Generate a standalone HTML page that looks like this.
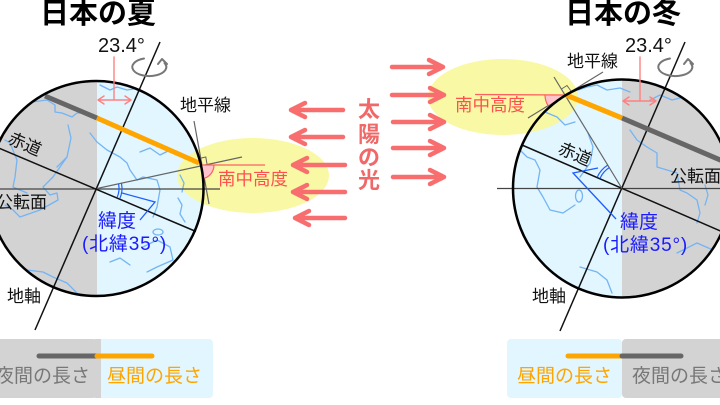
<!DOCTYPE html>
<html><head><meta charset="utf-8"><style>
html,body{margin:0;padding:0;background:#fff;width:720px;height:405px;overflow:hidden}
svg{display:block}
text{font-family:"Liberation Sans","Noto Sans CJK JP",sans-serif}
</style></head><body>
<svg width="720" height="405" viewBox="0 0 720 405" xmlns="http://www.w3.org/2000/svg">
<defs>
<clipPath id="cL"><circle cx="96" cy="188.5" r="107.5"/></clipPath>
<clipPath id="cR"><circle cx="622" cy="188.5" r="109"/></clipPath>
</defs>

<!-- LEFT GLOBE fills -->
<g clip-path="url(#cL)">
<rect x="-20" y="70" width="117" height="240" fill="#d3d3d3"/>
<rect x="97" y="70" width="120" height="240" fill="#e1f6fe"/>
</g>
<!-- RIGHT GLOBE fills -->
<g clip-path="url(#cR)">
<rect x="505" y="70" width="117" height="240" fill="#e1f6fe"/>
<rect x="622" y="70" width="120" height="240" fill="#d3d3d3"/>
</g>

<!-- yellow ellipses -->
<ellipse cx="253" cy="175.5" rx="76" ry="37.5" fill="#f8f79c" opacity="0.92"/>
<ellipse cx="503" cy="97" rx="75" ry="38" fill="#f8f79c" opacity="0.92"/>

<!-- coastlines left -->
<g clip-path="url(#cL)" fill="none" stroke="#74b4f4" stroke-width="1.3" stroke-linejoin="round" stroke-linecap="round">
<polyline points="32,102 47,100 55,105 55,112 62,113 72,117 77,113 83,113 90,117 95,119"/>
<polyline points="100,85 110,90 117,87 127,90 140,88 150,92"/>
<polyline points="68,125 71,138 67,157 57,167"/>
<polyline points="5,140 10,143 17,160 15,177 13,187 27,193"/>
<polyline points="67,157 53,177 43,187 50,195 57,193 58,200 40,210 20,217 13,210 5,205"/>
<polyline points="90,133 97,142 107,150 120,157 127,163 130,170 137,180 143,177 157,180 160,190 157,207 153,217"/>
<polyline points="140,152 150,148 160,155 170,150 180,156 187,157 195,160"/>
<polyline points="180,175 184,183 182,192"/>
<polyline points="178,198 182,205 180,214 185,222"/>
<ellipse cx="158" cy="232" rx="5" ry="3"/>
<polyline points="143,247 157,240 170,247 173,260 157,267 147,272"/>
<polyline points="27,270 43,272 53,277 67,283 77,293"/>
<polyline points="110,262 120,258 130,265"/>
</g>

<!-- coastlines right -->
<g clip-path="url(#cR)" fill="none" stroke="#74b4f4" stroke-width="1.3" stroke-linejoin="round" stroke-linecap="round">
<polyline points="578,90 587,87 597,85 607,90 620,88 630,92"/>
<polyline points="540,110 557,117 565,125 575,122"/>
<polyline points="520,150 527,157 535,160 540,170 537,187 543,197 550,210 563,213 575,205"/>
<polyline points="588,133 593,147 590,163 580,177"/>
<ellipse cx="579" cy="196" rx="3.5" ry="6"/>
<polyline points="580,267 597,272 607,280 612,293"/>
<polyline points="630,130 637,140 647,147 657,153 657,167 667,170 677,173 680,190 687,193 697,200 700,213 697,223"/>
<polyline points="697,87 710,93 720,107"/>
<polyline points="705,185 708,195 705,205"/>
<polyline points="677,253 697,243 713,250 722,262"/>
<polyline points="650,100 660,95 672,100 680,98"/>
</g>

<!-- LEFT GLOBE lines -->
<g fill="none">
<line x1="0" y1="189" x2="220" y2="189" stroke="#444" stroke-width="1.2"/>
<line x1="-5" y1="146.5" x2="196" y2="231.5" stroke="#111" stroke-width="1.5"/>
<line x1="160" y1="42" x2="35" y2="330" stroke="#111" stroke-width="1.5"/>
<line x1="97" y1="188.5" x2="242" y2="157" stroke="#666" stroke-width="1.2"/>
<line x1="194" y1="121" x2="209" y2="204" stroke="#666" stroke-width="1.2"/>
<path d="M199 158.5 L205.8 157 L207 164" stroke="#666" stroke-width="1"/>
<line x1="45" y1="96" x2="97" y2="118" stroke="#666" stroke-width="5"/>
<line x1="97" y1="118" x2="199" y2="163" stroke="#ffa500" stroke-width="5"/>
<path d="M200 165 L214 165 A14 14 0 0 1 202.5 178.8 Z" fill="#ffc4cc" stroke="none"/>
<path d="M214 165 A14 14 0 0 1 202.5 178.8" stroke="#ff6060" stroke-width="1.2"/>
<line x1="200" y1="165" x2="265" y2="165" stroke="#ff6060" stroke-width="1.3"/>
<path d="M118.6 184.1 A22 22 0 0 1 117.2 197.2 M121.5 183.5 A25 25 0 0 1 119.9 198.4" stroke="#1e5eff" stroke-width="1.2"/>
<polyline points="122,193 155,202 140,220" stroke="#1e5eff" stroke-width="1.3"/>
</g>
<circle cx="96" cy="188.5" r="107.5" fill="none" stroke="#000" stroke-width="2.5"/>

<!-- RIGHT GLOBE lines -->
<g fill="none">
<line x1="497" y1="188.5" x2="720" y2="188.5" stroke="#444" stroke-width="1.2"/>
<line x1="522" y1="145" x2="725" y2="233" stroke="#111" stroke-width="1.5"/>
<line x1="685" y1="42" x2="560" y2="331" stroke="#111" stroke-width="1.5"/>
<line x1="622" y1="188.5" x2="554" y2="77" stroke="#666" stroke-width="1.2"/>
<line x1="528" y1="118" x2="603" y2="72" stroke="#666" stroke-width="1.2"/>
<path d="M561.5 89 L567 85.5 L571 91" stroke="#666" stroke-width="1"/>
<line x1="622" y1="118" x2="725" y2="162" stroke="#666" stroke-width="5"/>
<line x1="566" y1="95" x2="622" y2="118" stroke="#ffa500" stroke-width="5"/>
<path d="M565 95 L545 95 A20 20 0 0 0 548 105.5 Z" fill="#ffc4cc" stroke="none"/>
<path d="M545 95 A20 20 0 0 0 548 105.5" stroke="#ff6060" stroke-width="1.2"/>
<line x1="475" y1="94.5" x2="565" y2="95" stroke="#ff6060" stroke-width="1.3"/>
<path d="M600 178.5 A24 24 0 0 1 609.4 167.5 M597.2 177.3 A27 27 0 0 1 607.9 165" stroke="#1e5eff" stroke-width="1.2"/>
<polyline points="598,168 573,173 616,219" stroke="#1e5eff" stroke-width="1.3"/>
</g>
<circle cx="622" cy="188.5" r="109" fill="none" stroke="#000" stroke-width="2.5"/>

<!-- 23.4 indicators -->
<g fill="none" stroke="#ff8080" stroke-width="1.4" stroke-linecap="round" stroke-linejoin="round">
<path d="M114 57 V100 M98 100 H131 M104 96 L98 100 L104 104 M125 96 L131 100 L125 104"/>
<path d="M640 57 V101 M623 101 H656 M629 97 L623 101 L629 105 M650 97 L656 101 L650 105"/>
</g>
<!-- rotation arrows -->
<g fill="none" stroke="#777" stroke-width="2" stroke-linecap="round" stroke-linejoin="round">
<path d="M144 58.5 A17 9 0 1 0 164.5 63"/>
<path d="M158 64 L162 59 L167 64"/>
<path d="M670 58.5 A17 9 0 1 0 690.5 63"/>
<path d="M684 64 L688 59 L693 64"/>
</g>

<!-- sun arrows -->
<g fill="none" stroke="#f86e6e" stroke-width="4.5" stroke-linecap="round" stroke-linejoin="round">
<path d="M343 110 H291 M305 103 L291 110 L305 117"/>
<path d="M343 137 H291 M305 130 L291 137 L305 144"/>
<path d="M345 165 H293 M307 158 L293 165 L307 172"/>
<path d="M345 192 H293 M307 185 L293 192 L307 199"/>
<path d="M345 218 H295 M309 211 L295 218 L309 225"/>
<path d="M392 67 H443 M429 60 L443 67 L429 74"/>
<path d="M392 95 H444 M430 88 L444 95 L430 102"/>
<path d="M393 122 H444 M430 115 L444 122 L430 129"/>
<path d="M393 148 H444 M430 141 L444 148 L430 155"/>
<path d="M393 177 H444 M430 170 L444 177 L430 184"/>
</g>
<g fill="#f06868" font-weight="bold" font-size="22" text-anchor="middle">
<text x="369" y="117">太</text>
<text x="369" y="142">陽</text>
<text x="369" y="165">の</text>
<text x="369" y="188">光</text>
</g>

<!-- titles -->
<text x="40" y="23" font-size="29" font-weight="bold" fill="#000">日本の夏</text>
<text x="565" y="23" font-size="29" font-weight="bold" fill="#000">日本の冬</text>

<!-- labels -->
<g font-size="20" fill="#111">
<text x="98" y="52">23.4°</text>
<text x="625" y="52">23.4°</text>
</g>
<g font-size="17" fill="#111">
<text x="180" y="111">地平線</text>
<text x="567" y="67">地平線</text>
<text x="-4" y="208">公転面</text>
<text x="670" y="182">公転面</text>
<text x="7" y="302">地軸</text>
<text x="532" y="302">地軸</text>
<g transform="translate(25,144) rotate(23.4)"><text x="0" y="6" text-anchor="middle">赤道</text></g>
<g transform="translate(575,154) rotate(23.4)"><text x="0" y="6" text-anchor="middle">赤道</text></g>
</g>
<g font-size="17.5" fill="#ff5050">
<text x="218" y="185">南中高度</text>
<text x="455" y="111">南中高度</text>
</g>
<g font-size="19" fill="#1a1aff">
<text x="98" y="227">緯度</text>
<text x="82" y="250" letter-spacing="0.8">(北緯35°)</text>
<text x="620" y="228">緯度</text>
<text x="603" y="251" letter-spacing="0.8">(北緯35°)</text>
</g>

<!-- legends -->
<rect x="-6" y="339" width="103" height="59" rx="4" fill="#d3d3d3"/>
<rect x="97" y="339" width="116" height="59" rx="4" fill="#e1f6fe"/>
<rect x="95" y="339" width="6" height="59" fill="#d3d3d3"/>
<rect x="507" y="339" width="115" height="59" rx="4" fill="#e1f6fe"/>
<rect x="622" y="339" width="105" height="59" rx="4" fill="#d3d3d3"/>
<g stroke-width="5" stroke-linecap="round">
<line x1="39" y1="356" x2="97" y2="356" stroke="#666"/>
<line x1="97" y1="356" x2="152" y2="356" stroke="#ffa500"/>
<line x1="568" y1="356" x2="622" y2="356" stroke="#ffa500"/>
<line x1="622" y1="356" x2="681" y2="356" stroke="#666"/>
</g>
<g font-size="19">
<text x="-5" y="382" fill="#777">夜間の長さ</text>
<text x="107" y="382" fill="#ffa500">昼間の長さ</text>
<text x="517" y="382" fill="#ffa500">昼間の長さ</text>
<text x="632" y="382" fill="#777">夜間の長さ</text>
</g>
</svg>
</body></html>
